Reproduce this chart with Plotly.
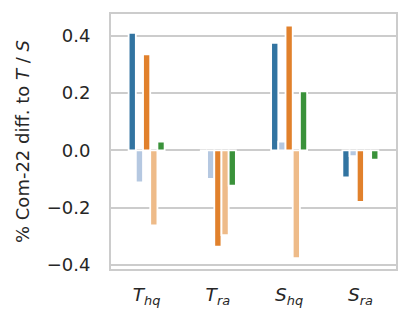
import plotly.graph_objects as go

categories = ["<i>T</i><sub><i>hq</i></sub>", "<i>T</i><sub><i>ra</i></sub>",
              "<i>S</i><sub><i>hq</i></sub>", "<i>S</i><sub><i>ra</i></sub>"]
series_names = ["s1", "s2", "s3", "s4", "s5"]
series_values = {
    "s1": [0.41, 0.0, 0.375, -0.095],
    "s2": [-0.112, -0.10, 0.03, -0.02],
    "s3": [0.335, -0.336, 0.435, -0.18],
    "s4": [-0.262, -0.296, -0.376, 0.0],
    "s5": [0.03, -0.123, 0.206, -0.033],
}
colors = ["#3274a1", "#b5c8e1", "#e1812c", "#eebb89", "#3a923a"]
y_ticks = [-0.4, -0.2, 0.0, 0.2, 0.4]
y_ticklabels = ["\u22120.4", "\u22120.2", "0.0", "0.2", "0.4"]

fig = go.Figure()
for name, col in zip(series_names, colors):
    fig.add_trace(go.Bar(
        x=categories, y=series_values[name], name=name,
        marker=dict(color=col, line=dict(color="white", width=1.8)),
        showlegend=False,
    ))

fig.update_layout(
    width=409, height=326,
    margin=dict(l=111, r=13, t=14, b=57),
    barmode="group", bargap=0.495, bargroupgap=0,
    plot_bgcolor="white", paper_bgcolor="white",
    font=dict(family="DejaVu Sans", size=18, color="#262626"),
)
fig.update_xaxes(
    showgrid=False, showline=True, mirror=True, linecolor="#cccccc", linewidth=1.8,
    ticks="outside", ticklen=8, tickcolor="rgba(0,0,0,0)",
    tickfont=dict(size=18.5),
    range=[-0.5, 3.5],
)
fig.update_yaxes(
    range=[-0.4143, 0.4757],
    tickvals=y_ticks, ticktext=y_ticklabels,
    showgrid=True, gridcolor="#cccccc", gridwidth=1.5, zeroline=False,
    showline=True, mirror=True, linecolor="#cccccc", linewidth=1.8,
    ticks="outside", ticklen=15, tickcolor="rgba(0,0,0,0)",
    title=dict(text="% Com-22 diff. to <i>T</i> / <i>S</i>", standoff=12,
               font=dict(size=18)),
)
fig.write_html("out.html")
